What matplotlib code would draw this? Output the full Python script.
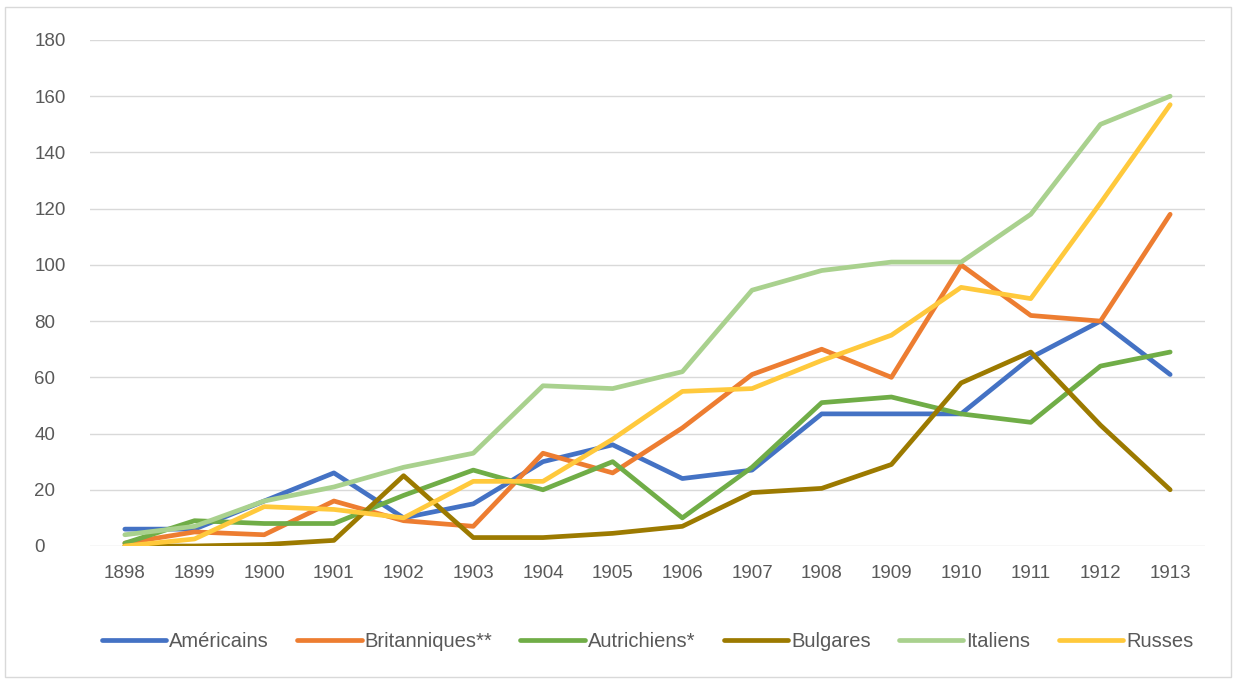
import matplotlib
matplotlib.use("Agg")
import matplotlib.pyplot as plt
from matplotlib.patches import Rectangle

plt.rcParams["font.family"] = ["Liberation Sans", "DejaVu Sans"]

YEARS = [str(y) for y in range(1898, 1914)]
SERIES = ["Américains", "Britanniques**", "Autrichiens*", "Bulgares", "Italiens", "Russes"]
AMERICAINS = [6, 6, 16, 26, 10, 15, 30, 36, 24, 27, 47, 47, 47, 67, 80, 61]
BRITANNIQUES = [1, 5, 4, 16, 9, 7, 33, 26, 42, 61, 70, 60, 100, 82, 80, 118]
AUTRICHIENS = [1, 9, 8, 8, 18, 27, 20, 30, 10, 28, 51, 53, 47, 44, 64, 69]
BULGARES = [0, 0, 0.5, 2, 25, 3, 3, 4.5, 7, 19, 20.5, 29, 58, 69, 43, 20]
ITALIENS = [4, 7, 16, 21, 28, 33, 57, 56, 62, 91, 98, 101, 101, 118, 150, 160]
RUSSES = [0, 2.5, 14, 13, 10, 23, 23, 38, 55, 56, 66, 75, 92, 88, 122, 157]
COLORS = ["#4472C4", "#ED7D31", "#70AD47", "#9C7A00", "#A9D18E", "#FFC93C"]

fig = plt.figure(figsize=(12.36, 6.81), dpi=100)
fig.patch.set_facecolor("white")
fig.add_artist(Rectangle((0.004, 0.006), 0.992, 0.984, transform=fig.transFigure,
                         fill=False, ec="#D9D9D9", lw=1))

ax = fig.add_axes([90 / 1236, 1 - 546 / 681, (1205 - 90) / 1236, (546 - 40) / 681])
x = list(range(len(YEARS)))
for name, vals, c in zip(SERIES, [AMERICAINS, BRITANNIQUES, AUTRICHIENS, BULGARES, ITALIENS, RUSSES], COLORS):
    ax.plot(x, vals, color=c, lw=3.4, label=name, solid_joinstyle="round", solid_capstyle="round", zorder=3)

ax.set_xlim(-0.5, len(YEARS) - 0.5)
ax.set_ylim(0, 180)
ax.set_yticks(range(0, 181, 20))
ax.set_xticks(x)
ax.set_xticklabels(YEARS)
ax.tick_params(length=0, labelsize=13.5, colors="#595959", pad=14)
ax.tick_params(axis="y", pad=40)
for lab in ax.get_yticklabels():
    lab.set_horizontalalignment("left")
ax.grid(axis="y", color="#D9D9D9", lw=1, zorder=0)
for s in ax.spines.values():
    s.set_visible(False)

leg = ax.legend(loc="upper center", bbox_to_anchor=(0.5, -0.135), ncol=6, frameon=False,
                fontsize=14.5, handlelength=3.2, handletextpad=0.15, columnspacing=1.4)
for t in leg.get_texts():
    t.set_color("#595959")

fig.savefig("out.png", dpi=100, facecolor="white")
